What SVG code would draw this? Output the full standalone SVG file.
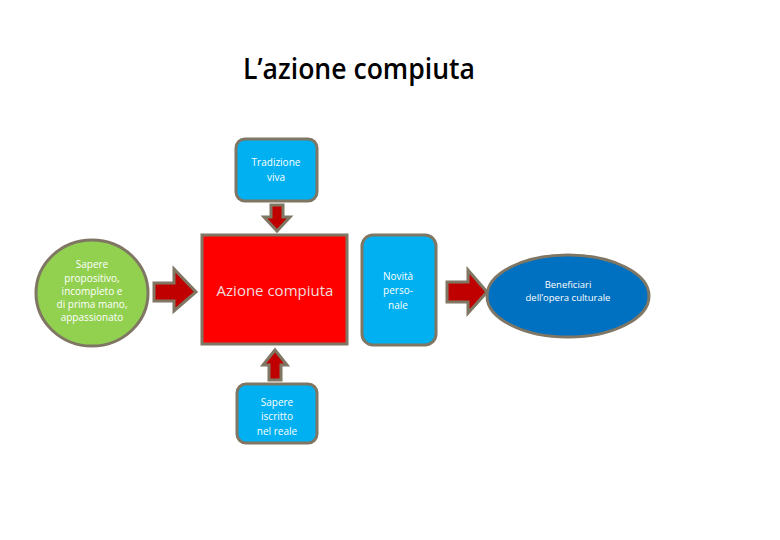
<svg xmlns="http://www.w3.org/2000/svg" width="780" height="540" viewBox="0 0 780 540">
<style>
.t{font-family:"Open Sans","Liberation Sans",sans-serif;text-anchor:middle;fill:#ffffff}
.s{font-size:10px}
.arr{fill:#c00000;stroke:#7f7663;stroke-width:3;stroke-linejoin:miter}
.nd{stroke:#7f7663;stroke-width:3}
</style>
<rect width="780" height="540" fill="#ffffff"/>
<text x="359" y="79" font-family="'Open Sans','Liberation Sans',sans-serif" font-size="28" font-weight="600" fill="#000" text-anchor="middle" textLength="232" lengthAdjust="spacingAndGlyphs">L’azione compiuta</text>
<g id="connectors">
<polygon class="arr" points="271,205 283,205 283,217 290,217 277,231 264,217 271,217"/>
<polygon class="arr" points="154,283 174,283 174,269 196,292 174,311 174,301 154,301"/>
<polygon class="arr" points="269,380 281,380 281,365 287,365 275,350 263,365 269,365"/>
<polygon class="arr" points="447,282 468,282 468,270 487,292 468,313 468,302 447,302"/>
</g>
<g id="tradizione">
<rect class="nd" x="236" y="139" width="81" height="62" rx="9" fill="#00b0f0"/>
<text class="t s" x="276" y="166">Tradizione</text>
<text class="t s" x="276" y="181">viva</text>
</g>
<g id="sapere-propositivo">
<ellipse class="nd" cx="92" cy="293" rx="56" ry="53" fill="#92d050"/>
<text class="t s" x="92" y="268">Sapere</text>
<text class="t s" x="92" y="282">propositivo,</text>
<text class="t s" x="92" y="295">incompleto e</text>
<text class="t s" x="92" y="308">di prima mano,</text>
<text class="t s" x="92" y="321">appassionato</text>
</g>
<g id="azione">
<rect class="nd" x="202" y="235" width="145" height="109" fill="#ff0000"/>
<text class="t" x="275" y="296" font-size="15" style="fill:#f2dcdb">Azione compiuta</text>
</g>
<g id="novita">
<rect class="nd" x="362" y="235" width="74" height="110" rx="11" fill="#00b0f0"/>
<text class="t s" x="398" y="280">Novità</text>
<text class="t s" x="398" y="294">perso-</text>
<text class="t s" x="398" y="309">nale</text>
</g>
<g id="beneficiari">
<ellipse class="nd" cx="568" cy="296" rx="81" ry="41" fill="#0070c0"/>
<text class="t" font-size="9.5" x="568" y="288">Beneficiari</text>
<text class="t" font-size="9.5" x="568" y="301">dell’opera culturale</text>
</g>
<g id="sapere-iscritto">
<rect class="nd" x="237" y="384" width="80" height="59" rx="9" fill="#00b0f0"/>
<text class="t s" x="277" y="406">Sapere</text>
<text class="t s" x="277" y="420">iscritto</text>
<text class="t s" x="277" y="435">nel reale</text>
</g>
</svg>
